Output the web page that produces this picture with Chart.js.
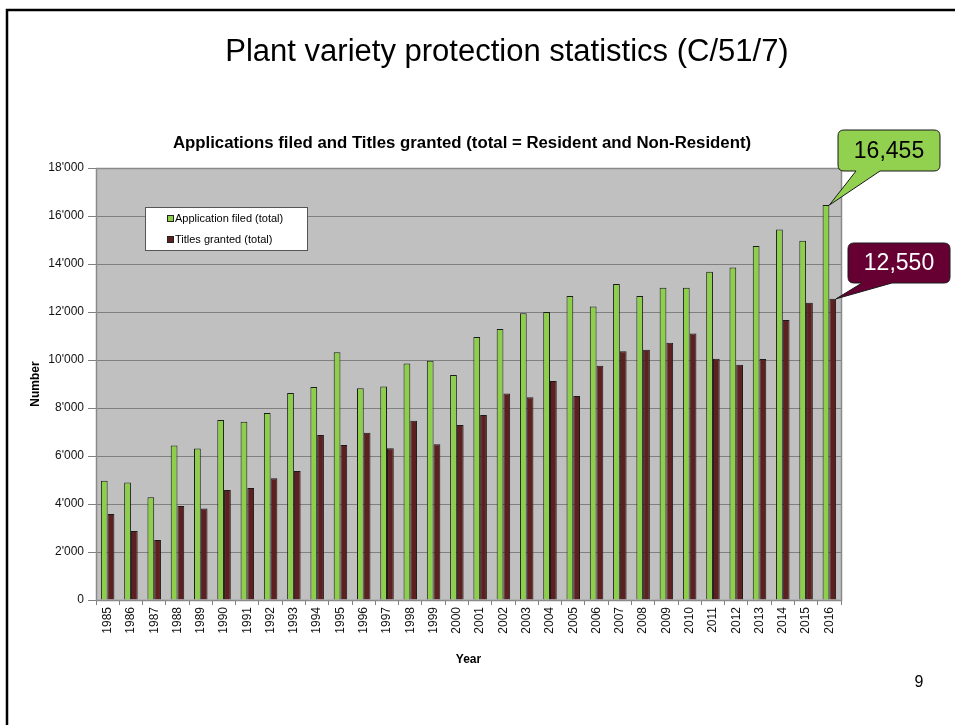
<!DOCTYPE html>
<html>
<head>
<meta charset="utf-8">
<script src="https://cdn.jsdelivr.net/npm/chart.js@4/dist/chart.umd.min.js"></script>
<style>
  html, body { margin: 0; padding: 0; background: #fff; }
  #wrap { width: 955px; height: 725px; position: relative; }
</style>
</head>
<body>
<div id="wrap"><canvas id="myChart" width="955" height="725"></canvas></div>
<script>
// years on the x axis
const years = ['1985','1986','1987','1988','1989','1990','1991','1992','1993','1994','1995','1996','1997','1998','1999','2000',
  '2001','2002','2003','2004','2005','2006','2007','2008','2009','2010','2011','2012','2013','2014','2015','2016'];

// applications filed (total)
const applications = [4970, 4900, 4280, 6440, 6310, 7500, 7430, 7790, 8620, 8870, 10320, 8820, 8900, 9850, 9970, 9380,
  10960, 11290, 11950, 12000, 12670, 12230, 13170, 12670, 13010, 13010, 13680, 13850, 14750, 15440, 14970, 16455];

// titles granted (total)
const titles = [3580, 2870, 2500, 3920, 3810, 4580, 4670, 5070, 5370, 6870, 6460, 6970, 6320, 7470, 6490, 7290,
  7710, 8600, 8450, 9120, 8500, 9760, 10360, 10430, 10720, 11100, 10050, 9800, 10040, 11670, 12390, 12550];

const yTicks = [0, 2000, 4000, 6000, 8000, 10000, 12000, 14000, 16000, 18000];

const callouts = [
  {text: '16,455', series: 0, fill: '#92D050', color: '#000', box: [838, 130, 102, 41], tail: [856, 880]},
  {text: '12,550', series: 1, fill: '#660033', color: '#fff', box: [848, 243, 102, 40], tail: [862, 892]}
];

const FONT = '"Liberation Sans", Arial, sans-serif';

// slide decoration, gray plot background and the callouts
const slidePlugin = {
  id: 'slide',
  beforeDraw: (chart) => {
    const ctx = chart.ctx;
    const {left, top, width, height} = chart.chartArea;
    ctx.save();
    ctx.fillStyle = '#fff';
    ctx.fillRect(0, 0, chart.width, chart.height);
    ctx.fillStyle = '#C0C0C0';
    ctx.fillRect(left, top, width, height);
    ctx.restore();
  },
  afterDraw: (chart) => {
    const ctx = chart.ctx;
    const {left, top, width, height} = chart.chartArea;
    ctx.save();
    // plot border
    ctx.strokeStyle = '#8a8a8a';
    ctx.lineWidth = 1.5;
    ctx.strokeRect(left + 0.5, top + 0.5, width, height);

    // slide border
    ctx.strokeStyle = '#000';
    ctx.lineWidth = 2.5;
    ctx.strokeRect(7, 10, 1000, 800);

    // slide title
    ctx.fillStyle = '#000';
    ctx.font = '31px ' + FONT;
    ctx.textAlign = 'center';
    ctx.textBaseline = 'middle';
    ctx.fillText('Plant variety protection statistics (C/51/7)', 507, 52);

    // chart title
    ctx.font = 'bold 16.8px ' + FONT;
    ctx.fillText('Applications filed and Titles granted (total = Resident and Non-Resident)', 462, 143);

    // page number
    ctx.font = '16px ' + FONT;
    ctx.fillText('9', 919, 683);

    // callouts pointing at the 2016 bars
    callouts.forEach(c => {
      const meta = chart.getDatasetMeta(c.series);
      const bar = meta.data[meta.data.length - 1];
      const tipX = bar.x + bar.width / 2;
      const tipY = bar.y;
      const [bx, by, bw, bh] = c.box;
      const r = 6;
      ctx.beginPath();
      ctx.moveTo(bx + r, by);
      ctx.lineTo(bx + bw - r, by);
      ctx.quadraticCurveTo(bx + bw, by, bx + bw, by + r);
      ctx.lineTo(bx + bw, by + bh - r);
      ctx.quadraticCurveTo(bx + bw, by + bh, bx + bw - r, by + bh);
      ctx.lineTo(c.tail[1], by + bh);
      ctx.lineTo(tipX, tipY);
      ctx.lineTo(c.tail[0], by + bh);
      ctx.lineTo(bx + r, by + bh);
      ctx.quadraticCurveTo(bx, by + bh, bx, by + bh - r);
      ctx.lineTo(bx, by + r);
      ctx.quadraticCurveTo(bx, by, bx + r, by);
      ctx.closePath();
      ctx.fillStyle = c.fill;
      ctx.fill();
      ctx.strokeStyle = '#1a1a1a';
      ctx.lineWidth = 1;
      ctx.stroke();
      ctx.fillStyle = c.color;
      ctx.font = '23px ' + FONT;
      ctx.fillText(c.text, bx + bw / 2, by + bh / 2 + 1);
    });
    ctx.restore();
  }
};

// small legend box inside the plot
const legendPlugin = {
  id: 'innerLegend',
  afterDraw: (chart) => {
    const ctx = chart.ctx;
    const x = 145, y = 207, w = 162, h = 43;
    ctx.save();
    ctx.fillStyle = '#fff';
    ctx.fillRect(x, y, w, h);
    ctx.strokeStyle = '#555';
    ctx.lineWidth = 1;
    ctx.strokeRect(x + 0.5, y + 0.5, w, h);
    ctx.font = '11px ' + FONT;
    ctx.textAlign = 'left';
    ctx.textBaseline = 'middle';
    chart.data.datasets.forEach((ds, i) => {
      const ly = y + 11 + i * 21;
      ctx.fillStyle = ds.backgroundColor;
      ctx.fillRect(x + 22, ly - 3, 7, 7);
      ctx.strokeStyle = '#222';
      ctx.strokeRect(x + 22.5, ly - 2.5, 6, 6);
      ctx.fillStyle = '#000';
      ctx.fillText(ds.label, x + 30, ly + 0.5);
    });
    ctx.restore();
  }
};

const config = {
  type: 'bar',
  data: {
    labels: years,
    datasets: [{
      label: 'Application filed (total)',
      data: applications,
      backgroundColor: '#8DCF4B',
      borderColor: '#1a1a1a',
      borderWidth: 1
    }, {
      label: 'Titles granted (total)',
      data: titles,
      backgroundColor: '#5E1F20',
      borderColor: '#1a1a1a',
      borderWidth: 1
    }]
  },
  plugins: [slidePlugin, legendPlugin],
  options: {
    responsive: false,
    animation: false,
    layout: {
      padding: {left: 24, right: 114, top: 168, bottom: 54}
    },
    datasets: {
      bar: {categoryPercentage: 0.58, barPercentage: 1.0}
    },
    plugins: {
      title: {display: false},
      legend: {display: false},
      tooltip: {enabled: false}
    },
    scales: {
      x: {
        afterFit: (scale) => { scale.height = 71; },
        grid: {display: true, drawOnChartArea: false, drawTicks: true, tickLength: 5, color: '#808080', offset: true},
        border: {color: '#808080'},
        ticks: {
          minRotation: 90, maxRotation: 90, autoSkip: false, padding: 2,
          color: '#111',
          font: {family: FONT, size: 12}
        },
        title: {
          display: true, text: 'Year', color: '#000',
          font: {family: FONT, size: 12, weight: 'bold', lineHeight: 1.2},
          padding: {top: 4, bottom: 4}
        }
      },
      y: {
        min: 0, max: 18000,
        afterFit: (scale) => { scale.width = 72; },
        afterBuildTicks: (scale) => { scale.ticks = yTicks.map(v => ({value: v})); },
        grid: {color: '#808080', lineWidth: 1, tickLength: 8, drawTicks: true},
        border: {color: '#808080'},
        ticks: {
          padding: 4,
          color: '#111',
          font: {family: FONT, size: 12},
          callback: (v) => v === 0 ? '0' : String(v / 1000) + "'000"
        },
        title: {
          display: true, text: 'Number', color: '#000',
          font: {family: FONT, size: 12, weight: 'bold', lineHeight: 1.2},
          padding: {top: 4, bottom: 4}
        }
      }
    }
  }
};

const ctx = document.getElementById('myChart').getContext('2d');
const myChart = new Chart(ctx, config);
</script>
</body>
</html>
